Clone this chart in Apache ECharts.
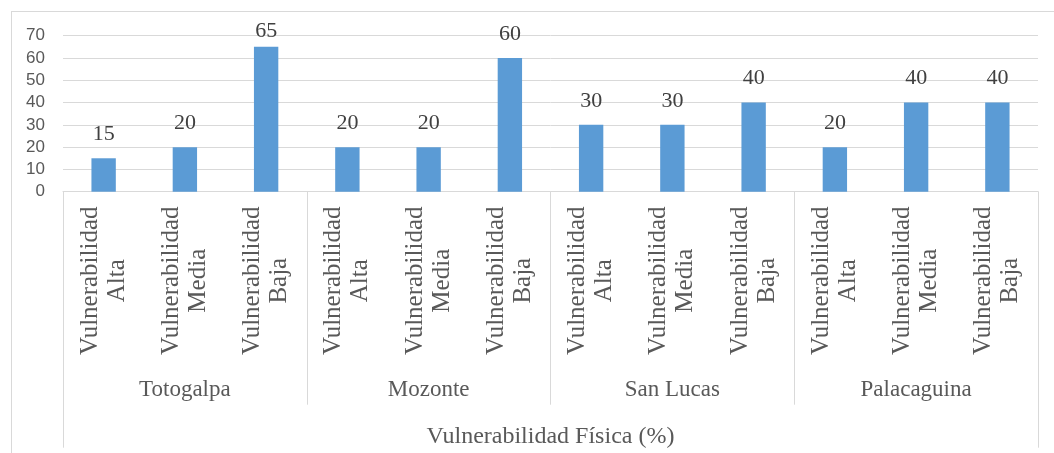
<!DOCTYPE html>
<html>
<head>
<meta charset="utf-8">
<script src="https://cdn.jsdelivr.net/npm/echarts@6/dist/echarts.min.js"></script>
<style>
  html, body { margin: 0; padding: 0; background: #ffffff; overflow: hidden; }
  #frame { position: absolute; left: 11px; top: 11px; width: 1200px; height: 600px;
           border-left: 1px solid #d9d9d9; border-top: 1px solid #d9d9d9; }
  #chart { position: absolute; left: 0; top: 0; width: 1054px; height: 453px; }
</style>
</head>
<body>
<div id="frame"></div>
<div id="chart"></div>
<script>
// Municipalities (outer category level) and vulnerability levels (inner level)
const municipios = ['Totogalpa', 'Mozonte', 'San Lucas', 'Palacaguina'];
const niveles = ['Vulnerabilidad\nAlta', 'Vulnerabilidad\nMedia', 'Vulnerabilidad\nBaja'];

// Percentages per municipality: Alta, Media, Baja
const totogalpa = [15, 20, 65];
const mozonte = [20, 20, 60];
const sanLucas = [30, 30, 40];
const palacaguina = [20, 40, 40];

// Value axis ticks
const yTicks = [0, 10, 20, 30, 40, 50, 60, 70];

const ejeTitulo = 'Vulnerabilidad Física (%)';

const valores = [].concat(totogalpa, mozonte, sanLucas, palacaguina);
const categorias = [];
municipios.forEach(function () { niveles.forEach(function (n) { categorias.push(n); }); });

const yMin = yTicks[0];
const yMax = yTicks[yTicks.length - 1];
const yStep = yTicks[1] - yTicks[0];

const serif = 'Liberation Serif';
const grey = '#595959';
const rule = '#d9d9d9';

// Labels of bars that reach the top of the plot sit closer to the bar
const barData = valores.map(function (v) {
  return (yMax - v) < 6 ? { value: v, label: { distance: 5 } } : v;
});

const chart = echarts.init(document.getElementById('chart'), null, { renderer: 'canvas' });

chart.setOption({
  animation: false,
  backgroundColor: 'transparent',
  grid: { left: 63, right: 16, top: 35.7, bottom: 261.3 },
  xAxis: [
    {
      type: 'category',
      data: categorias,
      position: 'bottom',
      axisLine: { show: true, lineStyle: { color: rule, width: 1 } },
      axisTick: { show: false },
      axisLabel: {
        interval: 0,
        rotate: 90,
        align: 'center',
        verticalAlign: 'middle',
        margin: 89,
        fontFamily: serif,
        fontSize: 25,
        lineHeight: 27,
        color: grey
      }
    },
    {
      type: 'category',
      data: municipios,
      position: 'bottom',
      axisLine: { show: false },
      axisTick: { show: true, interval: 0, length: 213, lineStyle: { color: rule, width: 1 } },
      axisLabel: {
        interval: 0,
        margin: 187,
        fontFamily: serif,
        fontSize: 23,
        color: grey
      }
    },
    {
      type: 'category',
      data: [ejeTitulo],
      position: 'bottom',
      axisLine: { show: false },
      axisTick: { show: true, interval: 0, length: 256, lineStyle: { color: rule, width: 1 } },
      axisLabel: {
        interval: 0,
        margin: 233,
        fontFamily: serif,
        fontSize: 24,
        color: grey
      }
    }
  ],
  yAxis: {
    type: 'value',
    min: yMin,
    max: yMax,
    interval: yStep,
    axisLine: { show: false },
    axisTick: { show: false },
    splitLine: { show: true, lineStyle: { color: rule, width: 1 } },
    axisLabel: {
      margin: 18,
      fontFamily: 'Liberation Sans',
      fontSize: 17,
      color: grey
    }
  },
  series: [
    {
      type: 'bar',
      xAxisIndex: 0,
      yAxisIndex: 0,
      data: barData,
      barWidth: '30%',
      itemStyle: { color: '#5b9bd5' },
      label: {
        show: true,
        position: 'top',
        distance: 13,
        fontFamily: serif,
        fontSize: 22,
        color: '#404040'
      }
    }
  ]
});
</script>
</body>
</html>
